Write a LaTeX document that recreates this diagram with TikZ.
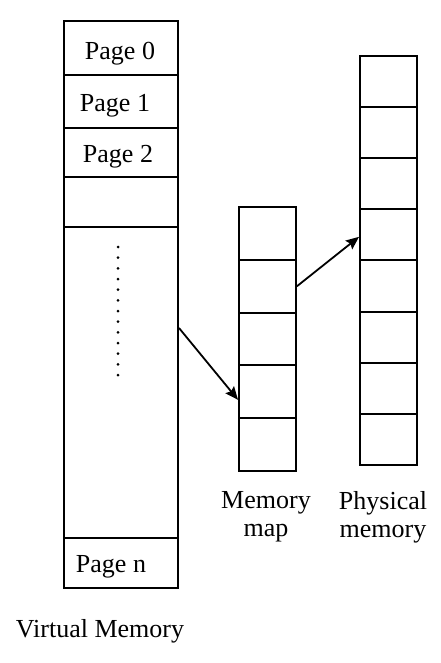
\documentclass[tikz,border=0pt]{standalone}
\usepackage{fontspec}
\setmainfont{Liberation Serif}
\usetikzlibrary{arrows.meta,positioning}

\begin{document}
\begin{tikzpicture}[
    x=1pt, y=-1pt,
    font=\fontsize{26}{28}\selectfont,
    vcell/.style={draw, line width=2pt, inner sep=0pt, minimum width=114pt},
    mcell/.style={draw, line width=2pt, inner sep=0pt, minimum width=57pt, minimum height=52.8pt},
    pcell/.style={draw, line width=2pt, inner sep=0pt, minimum width=57pt, minimum height=51.1pt},
    lbl/.style={inner sep=0pt},
    captxt/.style={align=center, inner sep=0pt},
    arr/.style={-{Stealth[length=13pt,width=11pt,inset=2pt]}, line width=1.8pt}
]
\useasboundingbox (0,0) rectangle (440,663);

% virtual memory column
\node[vcell, minimum height=54pt] (v0) at (121,48) {};
\node[vcell, minimum height=53pt] (v1) at (121,101.5) {};
\node[vcell, minimum height=49pt] (v2) at (121,152.5) {};
\node[vcell, minimum height=50pt] (v3) at (121,202) {};
\node[vcell, minimum height=311pt] (vbig) at (121,382.5) {};
\node[vcell, minimum height=50pt] (vn) at (121,563) {};
\node[lbl] (t0) at (120,54) {Page 0};
\node[lbl] (t1) at (115,106) {Page 1};
\node[lbl] (t2) at (118,157) {Page 2};
\node[lbl] (tn) at (111,567) {Page n};
\foreach \i in {0,...,12}
  \fill (118,{247+10.67*\i}) circle (1.5pt);

% memory map
\foreach \i in {1,...,5}
  \node[mcell] (m\i) at (267.5,{207+52.8*(\i-0.5)}) {};

% physical memory
\foreach \i in {1,...,8}
  \node[pcell] (p\i) at (388.5,{56+51.1*(\i-0.5)}) {};

% captions
\node[captxt] (cm) at (266,517) {Memory\\map};
\node[captxt] (cp) at (383,517) {Physical\\memory};
\node[lbl] (cv) at (100,631) {Virtual Memory};

% mapping
\draw[arr] ([yshift=54.5pt]vbig.east) -- ([yshift=-8pt]m4.west);
\draw[arr] (m2.east) -- ([yshift=-2pt]p4.west);
\end{tikzpicture}
\end{document}
